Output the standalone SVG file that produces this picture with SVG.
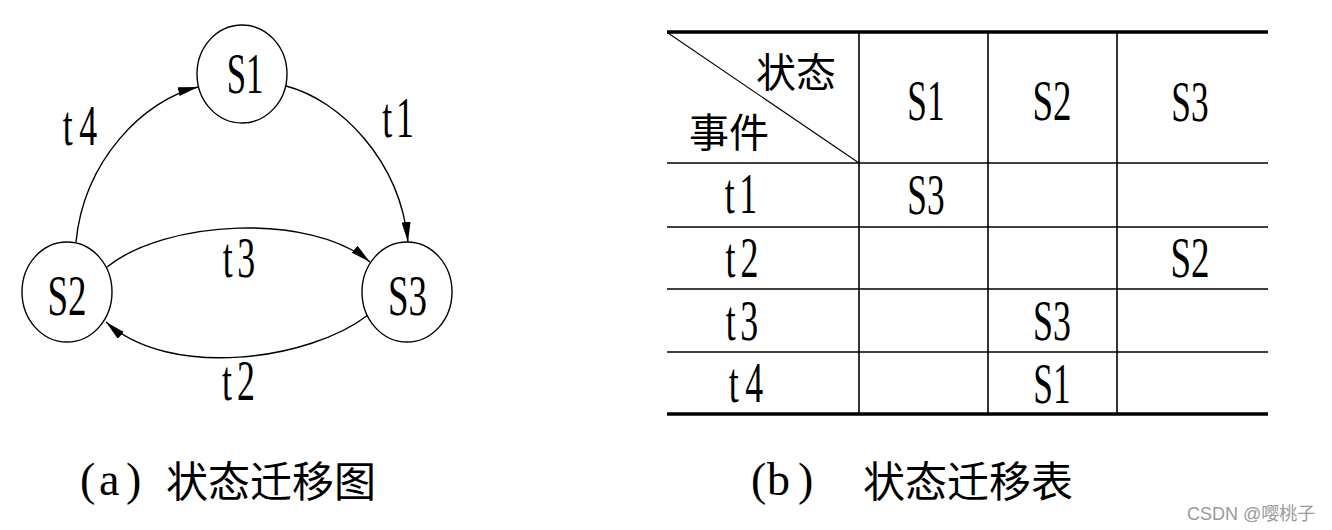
<svg xmlns="http://www.w3.org/2000/svg" width="1332" height="530" viewBox="0 0 1332 530">
  <style>
    .bg { fill: #ffffff; }
    .state { fill: #ffffff; stroke: #000000; stroke-width: 1.4; }
    .lat { font-family: "Liberation Serif", "Times New Roman", serif; font-size: 56px; fill: #000000; text-anchor: middle; }
    .cjk { font-family: "Noto Sans CJK SC", "Noto Sans CJK JP", sans-serif; fill: #000000; }
    .edge { fill: none; stroke: #000000; stroke-width: 1.4; marker-end: url(#arrow); }
    .thin { stroke: #000000; stroke-width: 1.6; fill: none; }
    .thick { stroke: #000000; stroke-width: 3.6; fill: none; }
    .diag { stroke: #000000; stroke-width: 1.1; fill: none; }
    .wm { font-family: "Liberation Sans", Arial, "Noto Sans CJK SC", sans-serif; font-size: 18px; fill: #9a9a9a; }
  </style>
  <defs>
    <marker id="arrow" markerUnits="userSpaceOnUse" markerWidth="22" markerHeight="10" refX="20" refY="4.5" orient="auto">
      <path d="M0,0 L20,4.5 L0,9 Z" fill="#000000"/>
    </marker>
  </defs>
  <rect class="bg" x="0" y="0" width="1332" height="530"/>

  <!-- (a) state transition diagram -->
  <g id="connectors">
    <path id="edge-t1" class="edge" d="M286,86 C340,100 400,160 408,242"/>
    <path id="edge-t4" class="edge" d="M76,242 C84,160 144,100 198,87"/>
    <path id="edge-t3" class="edge" d="M107,267 C165,220 310,212 370,262"/>
    <path id="edge-t2" class="edge" d="M368,315 C310,360 170,380 106,322"/>
    <g id="edge-labels">
      <text class="lat" transform="translate(398,137) scale(0.64,1)">t<tspan dx="6">1</tspan></text>
      <text class="lat" transform="translate(80,145) scale(0.64,1)">t<tspan dx="10">4</tspan></text>
      <text class="lat" transform="translate(239,277) scale(0.64,1)">t<tspan dx="7">3</tspan></text>
      <text class="lat" transform="translate(238.5,400) scale(0.64,1)">t<tspan dx="8">2</tspan></text>
    </g>
  </g>
  <g id="node-s1">
    <ellipse class="state" cx="242" cy="74" rx="45" ry="49"/>
    <text class="lat" transform="translate(245,93) scale(0.62,1)">S1</text>
  </g>
  <g id="node-s2">
    <ellipse class="state" cx="67" cy="292" rx="45" ry="50"/>
    <text class="lat" transform="translate(67,315) scale(0.66,1)">S2</text>
  </g>
  <g id="node-s3">
    <ellipse class="state" cx="407" cy="292" rx="45" ry="50"/>
    <text class="lat" transform="translate(407.5,315) scale(0.66,1)">S3</text>
  </g>

  <!-- (b) state transition table -->
  <g id="table">
    <line class="thick" x1="667" y1="32" x2="1268" y2="32"/>
    <line class="thick" x1="667" y1="414" x2="1268" y2="414"/>
    <line class="thin" x1="667" y1="163" x2="1268" y2="163"/>
    <line class="thin" x1="667" y1="227" x2="1268" y2="227"/>
    <line class="thin" x1="667" y1="289" x2="1268" y2="289"/>
    <line class="thin" x1="667" y1="352" x2="1268" y2="352"/>
    <line class="thin" x1="859" y1="32" x2="859" y2="414"/>
    <line class="thin" x1="988" y1="32" x2="988" y2="414"/>
    <line class="thin" x1="1117" y1="32" x2="1117" y2="414"/>
    <line class="diag" x1="668" y1="33" x2="859" y2="163"/>

    <text class="cjk" x="756" y="87" font-size="40">状态</text>
    <text class="cjk" x="689" y="147" font-size="40">事件</text>

    <text class="lat" transform="translate(926,120) scale(0.63,1)">S1</text>
    <text class="lat" transform="translate(1052,120) scale(0.66,1)">S2</text>
    <text class="lat" transform="translate(1190,121) scale(0.63,1)">S3</text>

    <text class="lat" transform="translate(741,213) scale(0.64,1)">t<tspan dx="7">1</tspan></text>
    <text class="lat" transform="translate(926,214) scale(0.63,1)">S3</text>

    <text class="lat" transform="translate(742,277) scale(0.64,1)">t<tspan dx="8">2</tspan></text>
    <text class="lat" transform="translate(1190,277) scale(0.66,1)">S2</text>

    <text class="lat" transform="translate(742,340) scale(0.64,1)">t<tspan dx="7">3</tspan></text>
    <text class="lat" transform="translate(1052,340) scale(0.64,1)">S3</text>

    <text class="lat" transform="translate(746,402) scale(0.64,1)">t<tspan dx="10">4</tspan></text>
    <text class="lat" transform="translate(1052,403) scale(0.63,1)">S1</text>
  </g>

  <!-- captions -->
  <g id="captions">
    <text x="80 99 126" y="495" font-family="Liberation Serif, serif" font-size="46" fill="#000000">(a)</text>
    <text class="cjk" x="166" y="497" font-size="42">状态迁移图</text>
    <text x="751 767 798" y="495" font-family="Liberation Serif, serif" font-size="46" fill="#000000">(b)</text>
    <text class="cjk" x="863" y="497" font-size="42">状态迁移表</text>
  </g>
  <text class="wm" x="1187" y="520">CSDN @嘤桃子</text>
</svg>
